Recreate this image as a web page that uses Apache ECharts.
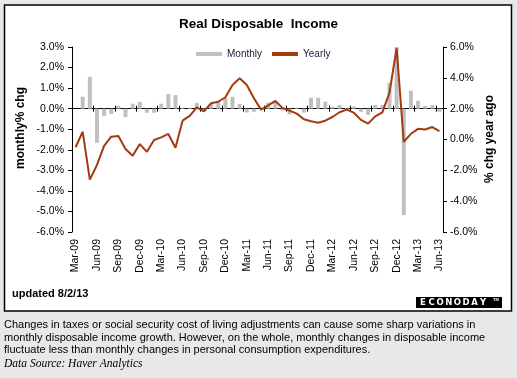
<!DOCTYPE html>
<html>
<head>
<meta charset="utf-8">
<script src="https://cdn.jsdelivr.net/npm/echarts@6/dist/echarts.min.js"></script>
<style>
html,body{margin:0;padding:0;background:#e8e8e8;}
#chart{width:517px;height:378px;}
</style>
</head>
<body>
<div id="chart"></div>
<script>
const months = ['Mar-09','Apr-09','May-09','Jun-09','Jul-09','Aug-09','Sep-09','Oct-09','Nov-09','Dec-09',
'Jan-10','Feb-10','Mar-10','Apr-10','May-10','Jun-10','Jul-10','Aug-10','Sep-10','Oct-10','Nov-10','Dec-10',
'Jan-11','Feb-11','Mar-11','Apr-11','May-11','Jun-11','Jul-11','Aug-11','Sep-11','Oct-11','Nov-11','Dec-11',
'Jan-12','Feb-12','Mar-12','Apr-12','May-12','Jun-12','Jul-12','Aug-12','Sep-12','Oct-12','Nov-12','Dec-12',
'Jan-13','Feb-13','Mar-13','Apr-13','May-13','Jun-13'];

const monthly = [null, 0.58, 1.55, -1.66, -0.35, -0.26, 0.14, -0.41, 0.24, 0.33,
-0.20, -0.20, 0.24, 0.71, 0.66, 0.05, 0.04, 0.28, -0.12, 0.25, 0.32, 0.52,
0.58, 0.23, -0.19, -0.15, 0.05, 0.29, 0.34, -0.10, -0.28, 0.04, -0.19, 0.53,
0.53, 0.34, 0.10, 0.18, 0.04, 0.10, -0.15, -0.30, 0.18, 0.18, 1.26, 3.00,
-5.18, 0.87, 0.38, 0.13, 0.18, -0.15];

const yearly = [-0.50, 0.50, -2.60, -1.65, -0.42, 0.18, 0.23, -0.62, -1.05, -0.30,
-0.80, -0.03, 0.14, 0.36, -0.53, 1.22, 1.53, 2.09, 1.83, 2.35, 2.45, 2.74,
3.54, 3.97, 3.54, 2.67, 1.94, 2.22, 2.50, 2.05, 1.87, 1.68, 1.31, 1.18,
1.09, 1.22, 1.46, 1.77, 1.94, 1.74, 1.27, 1.03, 1.50, 1.76, 3.05, 5.92,
-0.16, 0.37, 0.69, 0.65, 0.81, 0.55];

const leftTicks = {min: -6, max: 3, interval: 1};
const rightTicks = {min: -6, max: 6, interval: 2};

const captionLines = [
  'Changes in taxes or social security cost of living adjustments can cause some sharp variations in',
  'monthly disposable income growth. However, on the whole, monthly changes in disposable income',
  'fluctuate less than monthly changes in personal consumption expenditures.'
];
const sourceText = 'Data Source: Haver Analytics';

const FONT = '"Liberation Sans", Arial, sans-serif';
const pct = v => v.toFixed(1) + '%';

const chart = echarts.init(document.getElementById('chart'), null, {renderer: 'canvas'});

const logoLetters = 'ECONODAY'.split('');
const logoEls = logoLetters.map((ch, i) => ({
  type: 'text', x: 423 + i * 8.6, y: 302.5, z: 5,
  style: {text: ch, fill: '#fff', font: 'bold 8.5px "DejaVu Sans"', align: 'center', verticalAlign: 'middle', textAlign: 'center', textVerticalAlign: 'middle'}
}));

const graphics = [
  {type: 'rect', z: -10, shape: {x: 4.5, y: 5, width: 507, height: 306},
   style: {fill: '#fff', stroke: '#000', lineWidth: 1.5}},
  {type: 'text', x: 21, y: 128, rotation: Math.PI / 2,
   style: {text: 'monthly% chg', font: 'bold 12px ' + FONT, fill: '#000', align: 'center', verticalAlign: 'middle', textAlign: 'center', textVerticalAlign: 'middle'}},
  {type: 'text', x: 490, y: 139, rotation: Math.PI / 2,
   style: {text: '% chg year ago', font: 'bold 12px ' + FONT, fill: '#000', align: 'center', verticalAlign: 'middle', textAlign: 'center', textVerticalAlign: 'middle'}},
  {type: 'text', x: 12, y: 294,
   style: {text: 'updated 8/2/13', font: 'bold 11px ' + FONT, fill: '#000', verticalAlign: 'middle', textVerticalAlign: 'middle'}},
  {type: 'rect', z: 4, shape: {x: 416, y: 297, width: 86, height: 11}, style: {fill: '#000'}},
  {type: 'text', x: 493, y: 300, z: 5,
   style: {text: 'TM', font: 'bold 4px ' + FONT, fill: '#fff', verticalAlign: 'middle', textVerticalAlign: 'middle'}}
].concat(logoEls).concat(captionLines.map((t, i) => ({
  type: 'text', x: 4, y: 325 + i * 12.6,
  style: {text: t, font: '11px ' + FONT, fill: '#000', verticalAlign: 'middle', textVerticalAlign: 'middle'}
}))).concat([{
  type: 'text', x: 4, y: 363.5,
  style: {text: sourceText, font: 'italic 11.5px "Liberation Serif", "Times New Roman", serif', fill: '#000', verticalAlign: 'middle', textVerticalAlign: 'middle'}
}]);

const labelStyle = {fontFamily: FONT, fontSize: 10.5, color: '#000'};

chart.setOption({
  backgroundColor: '#e8e8e8',
  animation: false,
  title: {
    text: 'Real Disposable  Income', left: 'center', top: 17, padding: 0,
    textStyle: {fontFamily: FONT, fontSize: 13.5, fontWeight: 'bold', color: '#000'}
  },
  legend: {
    left: 196, top: 49, padding: 0, itemWidth: 26, itemHeight: 4, itemGap: 10,
    textStyle: {fontFamily: FONT, fontSize: 10, color: '#1a1a3a'},
    data: [{name: 'Monthly', icon: 'rect'}, {name: 'Yearly', icon: 'rect'}]
  },
  graphic: graphics,
  grid: {left: 72, right: 74, top: 47, bottom: 146, containLabel: false},
  xAxis: [
    {type: 'category', data: months, position: 'bottom', boundaryGap: true,
     axisLine: {show: true, onZero: true, onZeroAxisIndex: 0, lineStyle: {color: '#000', width: 1}},
     axisTick: {show: true, interval: 2, inside: true, length: 3, lineStyle: {color: '#000'}},
     axisLabel: {show: false}, splitLine: {show: false}},
    {type: 'category', data: months, position: 'bottom', boundaryGap: true,
     axisLine: {show: true, onZero: true, onZeroAxisIndex: 0, lineStyle: {color: '#000', width: 1}},
     axisTick: {show: true, interval: 2, inside: false, length: 3, lineStyle: {color: '#000'}},
     axisLabel: {show: false}, splitLine: {show: false}},
    {type: 'category', data: months, position: 'bottom', boundaryGap: true,
     axisLine: {show: false, onZero: false}, axisTick: {show: false},
     axisLabel: Object.assign({show: true, interval: 2, rotate: 90, margin: 7}, labelStyle),
     splitLine: {show: false}}
  ],
  yAxis: [
    {type: 'value', position: 'left', min: leftTicks.min, max: leftTicks.max, interval: leftTicks.interval,
     axisLine: {show: true, onZero: false, lineStyle: {color: '#000', width: 1}},
     axisTick: {show: true, length: 4, lineStyle: {color: '#000'}},
     axisLabel: Object.assign({margin: 8, formatter: pct}, labelStyle),
     splitLine: {show: false}},
    {type: 'value', position: 'right', min: rightTicks.min, max: rightTicks.max, interval: rightTicks.interval,
     axisLine: {show: true, onZero: false, lineStyle: {color: '#000', width: 1}},
     axisTick: {show: true, length: 4, lineStyle: {color: '#000'}},
     axisLabel: Object.assign({margin: 7, formatter: pct}, labelStyle),
     splitLine: {show: false}}
  ],
  series: [
    {name: 'Monthly', type: 'bar', xAxisIndex: 0, yAxisIndex: 0, data: monthly,
     barWidth: 4, itemStyle: {color: '#c0c0c0'}, z: 2},
    {name: 'Yearly', type: 'line', xAxisIndex: 0, yAxisIndex: 1, data: yearly,
     showSymbol: false, symbol: 'none', lineStyle: {color: '#a33a10', width: 2},
     itemStyle: {color: '#a33a10'}, z: 3}
  ]
});
</script>
</body>
</html>
